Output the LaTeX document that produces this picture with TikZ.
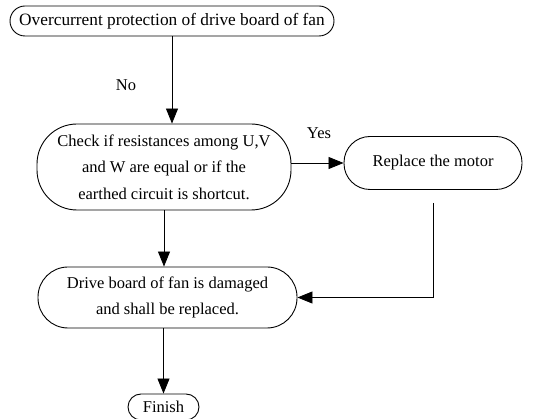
\documentclass[tikz,border=0pt]{standalone}
\usepackage{fontspec}
\setmainfont{Liberation Serif}
\usetikzlibrary{arrows.meta}

\tikzset{
  flowbox/.style={draw, line width=0.9pt, inner sep=0pt, align=center,
    font=\fontsize{16.5}{26.5}\selectfont},
  flowline/.style={line width=0.8pt, -{Triangle[length=15pt,width=12pt]}},
  flowlabel/.style={font=\fontsize{16.5}{20}\selectfont}
}

\begin{document}
\begin{tikzpicture}[x=1pt, y=-1pt]
  \useasboundingbox (0,0) rectangle (552,419);

  % ── Boxes ──
  \node[flowbox, minimum width=324pt, minimum height=30pt, rounded corners=15pt,
        font=\fontsize{17.3}{20}\selectfont]
    (start) at (172,21) {Overcurrent protection of drive board of fan};
  \node[flowbox, minimum width=254pt, minimum height=86pt, rounded corners=40pt]
    (check) at (164,167) {Check if resistances among U,V\\and W are equal or if the\\earthed circuit is shortcut.};
  \node[flowbox, minimum width=178pt, minimum height=53pt, rounded corners=26pt]
    (motor) at (433,163) {Replace the motor};
  \node[flowbox, minimum width=259pt, minimum height=61pt, rounded corners=30pt]
    (drive) at (167.5,297.5) {Drive board of fan is damaged\\and shall be replaced.};
  \node[flowbox, minimum width=71pt, minimum height=26pt, rounded corners=13pt]
    (finish) at (163.5,407) {Finish};

  % ── Labels ──
  \node[flowlabel] (no) at (126,85) {No};
  \node[flowlabel] (yes) at (319,133) {Yes};

  % ── Connectors ──
  \draw[flowline] (start.south) -- (start.south |- check.north);
  \draw[flowline] (check.east |- motor.west) -- (motor.west);
  \draw[flowline] (check.south) -- (check.south |- drive.north);
  \coordinate (motorout) at (433,203);
  \draw[flowline] (motorout) |- (drive.east);
  \draw[flowline] (finish.north |- drive.south) -- (finish.north);
\end{tikzpicture}
\end{document}
